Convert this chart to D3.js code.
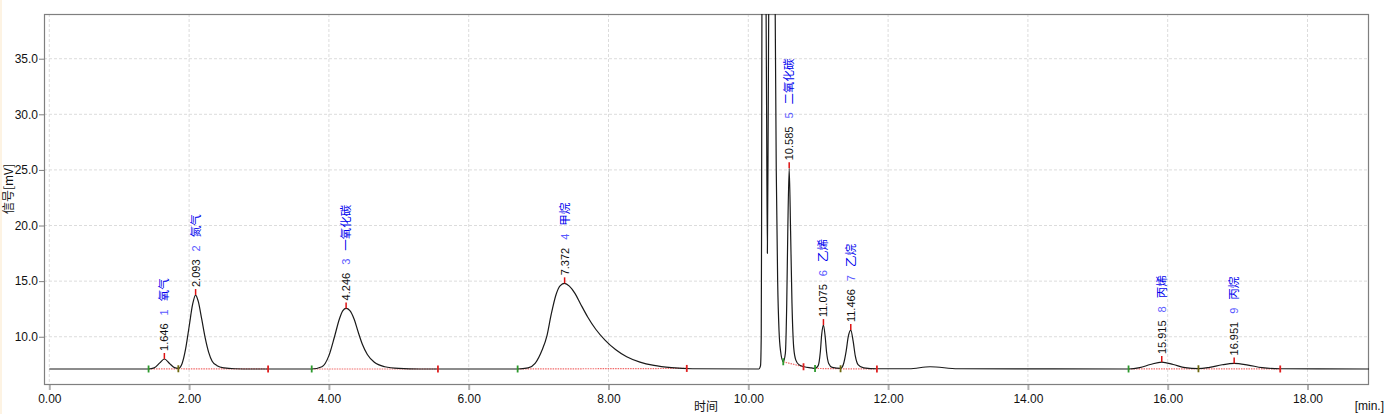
<!DOCTYPE html>
<html><head><meta charset="utf-8">
<script src="https://cdn.jsdelivr.net/npm/d3@7"></script>
<style>
html,body{margin:0;padding:0;background:#fff;overflow:hidden;}
svg{display:block;}
</style></head>
<body>
<svg id="chart" width="1397" height="414"></svg>
<script>
// ---- data ----
const traceTime = [0.00,1.30,1.42,1.50,1.58,1.646,1.72,1.79,1.846,1.90,1.95,2.00,2.05,2.093,2.13,2.18,2.23,2.28,2.33,2.40,2.50,2.65,2.90,
  3.75,3.90,4.00,4.08,4.15,4.20,4.246,4.30,4.36,4.42,4.48,4.55,4.65,4.80,5.00,5.30,
  6.70,6.85,6.95,7.05,7.12,7.18,7.25,7.31,7.372,7.44,7.52,7.60,7.70,7.82,7.95,8.10,8.26,8.45,8.65,8.90,9.20,
  10.15,10.175,10.185,10.19,10.195,10.22,10.25,10.262,10.273,10.285,10.30,10.33,10.37,10.385,10.40,10.42,10.44,10.46,10.50,
  10.53,10.55,10.565,10.585,10.605,10.625,10.65,10.68,10.73,10.80,10.90,
  10.955,11.00,11.03,11.05,11.075,11.10,11.12,11.15,11.20,
  11.32,11.36,11.40,11.43,11.466,11.50,11.53,11.57,11.65,11.84,
  12.30,12.60,13.00,
  15.44,15.60,15.75,15.915,16.08,16.25,16.44,16.60,16.78,16.951,17.15,17.35,17.61,18.88];
const traceSignal = [7.10,7.10,7.10,7.20,7.65,8.00,7.60,7.22,7.15,7.60,8.90,10.90,12.90,13.75,13.20,11.60,9.90,8.60,7.80,7.40,7.20,7.12,7.10,
  7.10,7.30,8.30,10.00,11.60,12.35,12.55,12.35,11.60,10.40,9.30,8.40,7.70,7.30,7.15,7.10,
  7.10,7.20,7.60,8.80,10.10,12.00,13.80,14.60,14.80,14.55,13.90,12.95,11.80,10.65,9.70,8.85,8.20,7.72,7.42,7.22,7.12,
  7.10,7.40,10.0,20.0,40.0,70.0,45.0,30.0,17.5,30.0,50.0,70.0,50.0,39.0,25.0,15.0,10.5,8.8,7.75,
  8.5,13.0,19.5,25.15,19.5,13.0,9.0,7.9,7.45,7.30,7.20,
  7.15,7.40,8.60,10.20,11.05,10.00,8.60,7.60,7.25,
  7.15,7.50,8.70,10.00,10.60,9.60,8.30,7.50,7.20,7.12,
  7.12,7.30,7.12,
  7.10,7.22,7.50,7.72,7.50,7.22,7.13,7.25,7.48,7.60,7.45,7.22,7.12,7.10];

const peakRT    = ["1.646","2.093","4.246","7.372","10.585","11.075","11.466","15.915","16.951"];
const peakTime  = [1.646,2.093,4.246,7.372,10.585,11.075,11.466,15.915,16.951];
const peakApex  = [8.00,13.75,12.55,14.80,25.15,11.05,10.60,7.72,7.60];
const peakIndex = ["1","2","3","4","5","6","7","8","9"];
const peakName  = ["氧气","氮气","一氧化碳","甲烷","二氧化碳","乙烯","乙烷","丙烯","丙烷"];

const baseStartT = [1.42,1.846,3.754,6.70,10.50,10.955,11.32,15.44,16.44];
const baseStartV = [7.10,7.12,7.10,7.10,7.75,7.15,7.12,7.10,7.12];
const baseEndT   = [1.846,3.13,5.56,9.12,10.79,11.32,11.84,16.44,17.61];
const baseEndV   = [7.12,7.10,7.10,7.15,7.30,7.12,7.10,7.12,7.10];

const markerT    = [1.42,1.846,3.13,3.754,5.56,6.70,9.12,10.50,10.79,10.955,11.32,11.84,15.44,16.44,17.61];
const markerV    = [7.10,7.12,7.10,7.10,7.10,7.10,7.15,7.75,7.30,7.15,7.12,7.10,7.10,7.12,7.10];
const markerKind = ["start","shared","end","start","end","start","end","start","end","start","shared","end","start","shared","end"];

const xTicks = [0,2,4,6,8,10,12,14,16,18];
const yTicks = [10,15,20,25,30,35];
const xTitle = "时间";
const xUnit = "[min.]";
const yTitle = "信号[mV]";

// ---- drawing ----
const svg = d3.select("#chart");
const L = 44, R = 1369, T = 14, B = 385;
const x = d3.scaleLinear().domain([-0.076, 18.88]).range([L, R]);
const y = d3.scaleLinear().domain([5.66, 39.02]).range([B, T]);
const tickFont = "'Liberation Sans', Arial, sans-serif";
const cjkFont = "'Noto Sans CJK SC', 'Noto Sans', sans-serif";

// faint left strip like the host window
svg.append("rect").attr("x",0).attr("y",0).attr("width",2).attr("height",414).attr("fill","#fdf3e3");

svg.append("defs").append("clipPath").attr("id","plotclip")
  .append("rect").attr("x",L).attr("y",T).attr("width",R-L).attr("height",B-T);

// grid
const grid = svg.append("g");
grid.selectAll("line.vx").data(xTicks).join("line")
  .attr("x1",d=>x(d)).attr("x2",d=>x(d)).attr("y1",T).attr("y2",B)
  .attr("stroke","#dcdcdc").attr("stroke-dasharray","3,2").attr("stroke-width",1);
grid.selectAll("line.hy").data(yTicks).join("line")
  .attr("x1",L).attr("x2",R).attr("y1",d=>y(d)).attr("y2",d=>y(d))
  .attr("stroke","#dcdcdc").attr("stroke-dasharray","3,2").attr("stroke-width",1);

// axes
const xAxis = d3.axisBottom(x).tickValues(xTicks).tickFormat(d3.format(".2f")).tickSize(5).tickPadding(4);
const gx = svg.append("g").attr("transform",`translate(0,${B})`).call(xAxis);
gx.select(".domain").remove();
gx.selectAll(".tick line").attr("stroke","#b0b0b0").attr("stroke-width",2);
gx.selectAll(".tick text").attr("font-family",tickFont).attr("font-size",12).attr("fill","#111");

const yAxis = d3.axisLeft(y).tickValues(yTicks).tickFormat(d3.format(".1f")).tickSize(5).tickPadding(1);
const gy = svg.append("g").attr("transform",`translate(${L},0)`).call(yAxis);
gy.select(".domain").remove();
gy.selectAll(".tick line").attr("stroke","#808080").attr("stroke-width",1);
gy.selectAll(".tick text").attr("font-family",tickFont).attr("font-size",12).attr("fill","#111");

// frame
svg.append("rect").attr("x",L+0.5).attr("y",T+0.5).attr("width",R-L-1).attr("height",B-T-1)
  .attr("fill","none").attr("stroke","#7f7f7f").attr("stroke-width",1.2);

// plot content
const plot = svg.append("g").attr("clip-path","url(#plotclip)");

// integration baselines
const segs = baseStartT.map((t,i)=>({t0:t,v0:baseStartV[i],t1:baseEndT[i],v1:baseEndV[i]}));
plot.selectAll("line.base").data(segs).join("line")
  .attr("x1",d=>x(d.t0)).attr("y1",d=>y(d.v0)).attr("x2",d=>x(d.t1)).attr("y2",d=>y(d.v1))
  .attr("stroke","#f05050").attr("stroke-width",1.2).attr("stroke-dasharray","1.5,1").attr("opacity",0.85);

// trace
const pts = traceTime.map((t,i)=>[t,traceSignal[i]]);
plot.append("path").datum(pts)
  .attr("d", d3.line().x(d=>x(d[0])).y(d=>y(d[1])).curve(d3.curveMonotoneX))
  .attr("fill","none").attr("stroke","#1a1a1a").attr("stroke-width",1.2);

// markers
const mColor = {start:"#2e9a2e", end:"#e02020", shared:"#6f6a10"};
plot.selectAll("line.mk").data(markerT.map((t,i)=>({t,v:markerV[i],k:markerKind[i]}))).join("line")
  .attr("x1",d=>x(d.t)).attr("x2",d=>x(d.t)).attr("y1",d=>y(d.v)-3.5).attr("y2",d=>y(d.v)+3.5)
  .attr("stroke",d=>mColor[d.k]).attr("stroke-width",1.8);

// apex ticks
const peaks = peakTime.map((t,i)=>({t,v:peakApex[i],rt:peakRT[i],idx:peakIndex[i],name:peakName[i]}));
plot.selectAll("line.apex").data(peaks).join("line")
  .attr("x1",d=>x(d.t)).attr("x2",d=>x(d.t)).attr("y1",d=>y(d.v)).attr("y2",d=>y(d.v)-6)
  .attr("stroke","#dd1111").attr("stroke-width",1.5);

// labels
const lab = svg.append("g");
const lt = lab.selectAll("text.pk").data(peaks).join("text")
  .attr("transform",d=>`translate(${x(d.t)+4},${y(d.v)-8}) rotate(-90)`)
  .attr("font-family",tickFont).attr("font-size",11);
lt.append("tspan").attr("fill","#111").text(d=>d.rt);
lt.append("tspan").attr("fill","#5a5aff").attr("dx",8).text(d=>d.idx);
lt.append("tspan").attr("fill","#0000ee").attr("dx",8).attr("font-family",cjkFont).attr("font-size",11.5).text(d=>d.name);

// titles
svg.append("text").attr("transform","translate(13,189) rotate(-90)").attr("text-anchor","middle")
  .attr("font-family",cjkFont).attr("font-size",12).attr("fill","#111").text(yTitle);
svg.append("text").attr("x",706).attr("y",411).attr("text-anchor","middle")
  .attr("font-family",cjkFont).attr("font-size",12).attr("fill","#111").text(xTitle);
svg.append("text").attr("x",1384).attr("y",410).attr("text-anchor","end")
  .attr("font-family",tickFont).attr("font-size",12).attr("fill","#111").text(xUnit);
</script>
</body></html>
